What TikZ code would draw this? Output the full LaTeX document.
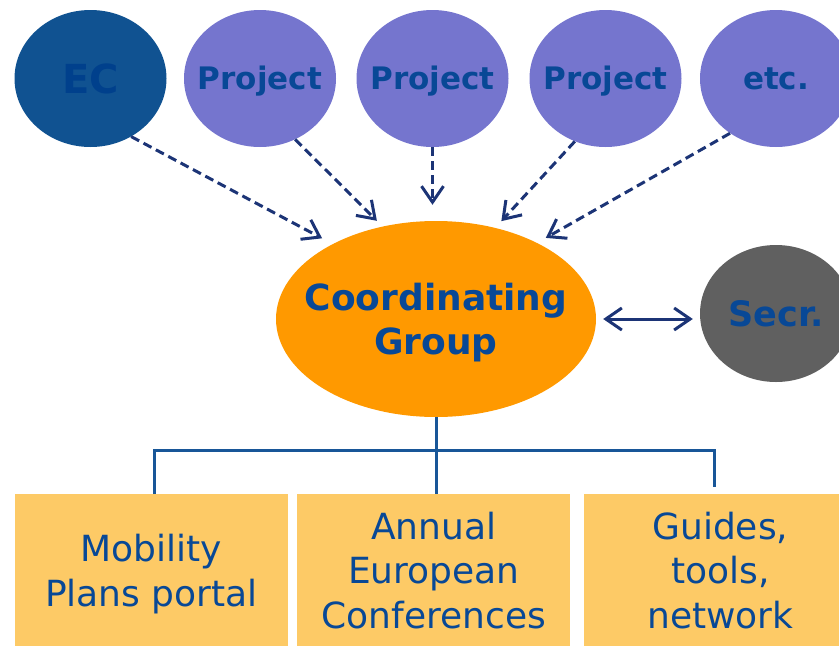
\documentclass[tikz,border=0pt]{standalone}
\usepackage{fontspec}
\setsansfont{DejaVu Sans}
\usepackage{tikz}
\usetikzlibrary{arrows.meta}
\usetikzlibrary{positioning}
\usetikzlibrary{shapes}

\definecolor{ecblue}{RGB}{16,82,145}
\definecolor{projviolet}{RGB}{117,117,206}
\definecolor{txtblue}{RGB}{8,72,150}
\definecolor{ectxt}{RGB}{0,64,140}
\definecolor{cgorange}{RGB}{255,153,0}
\definecolor{secrgrey}{RGB}{96,96,96}
\definecolor{arrnavy}{RGB}{28,52,118}
\definecolor{treeblue}{RGB}{24,86,152}
\definecolor{boxyellow}{RGB}{253,202,102}

\tikzset{
  bulle/.style={ellipse,draw=none,minimum width=152pt,minimum height=137pt,inner sep=0pt},
  etiq/.style={font=\sffamily\bfseries\fontsize{31}{38}\selectfont,text=txtblue,
               text height=22.5pt,text depth=0pt,inner sep=0pt},
  fleche/.style={->,arrnavy,line width=3pt,dash pattern=on 9pt off 5pt,shorten >=10pt},
  boite/.style={fill=boxyellow,minimum width=273pt,minimum height=152pt,inner sep=0pt,text depth=0pt,
                anchor=north,align=center,text=txtblue,font=\sffamily\fontsize{36}{44.5}\selectfont},
  lien/.style={treeblue,line width=3pt}
}

\begin{document}
\begin{tikzpicture}[x=1pt,y=-1pt,>={Straight Barb[length=16pt,width=22pt]}]
\useasboundingbox (0,0) rectangle (839,646);
\clip (0,0) rectangle (839,646);
% bulles du haut
\node[bulle,fill=ecblue,label={[etiq,text=ectxt,font=\sffamily\bfseries\fontsize{40}{48}\selectfont,text height=29pt]center:EC}] (ec) at (90.5,78.5) {};
\foreach \nom/\x/\txt in {p1/260/Project,p2/432.5/Project,p3/605.5/Project,etc/776/etc.}
    {
    \node[bulle,fill=projviolet,label={[etiq]center:\txt}] (\nom) at (\x,78.5) {};
    }
% groupe et secretariat
\node[bulle,fill=cgorange,minimum width=320pt,minimum height=196pt,
      label={[etiq,align=center,font=\sffamily\bfseries\fontsize{36}{44}\selectfont,text height=70pt,text depth=0pt]center:Coordinating\\Group}] (cg) at (436,319) {};
\node[bulle,fill=secrgrey,label={[etiq,font=\sffamily\bfseries\fontsize{35}{42}\selectfont,text height=25.5pt]center:Secr.}] (secr) at (776,313.5) {};
% fleches
\draw[fleche,shorten >=12pt] (ec.-55) -- (cg.144);
\draw[fleche,shorten >=8pt] (p1.-60) -- (cg.120);
\draw[fleche,shorten >=16pt] (p2.south) -- (p2.south |- cg.north);
\draw[fleche,shorten >=9pt] (p3.-116) -- (cg.57);
\draw[fleche] (etc.-130) -- (cg.37);
\draw[<->,arrnavy,line width=3pt,shorten <=7pt,shorten >=7pt] (cg.east) -- (cg.east -| secr.west);
% boites
\node[boite] (b1) at (151.5,494) {Mobility\\Plans portal};
\node[boite,right=9pt of b1] (b2) {Annual\\European\\Conferences};
\node[boite,right=13pt of b2] (b3) {Guides,\\tools,\\network};
% arbre
\draw[lien] (cg.south) -- (cg.south |- b2.north);
\draw[lien] ([xshift=2.5pt]b1.north) -- ++(0,-44) -| ([xshift=-5.5pt,yshift=7pt]b3.north);
\end{tikzpicture}
\end{document}
